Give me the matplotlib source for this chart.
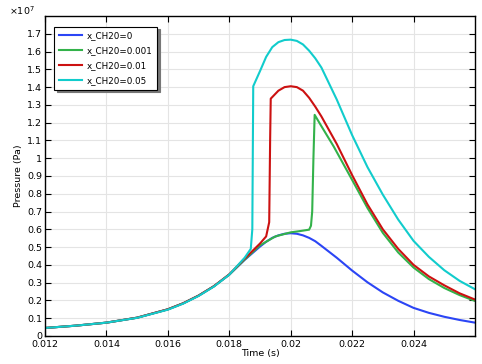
import matplotlib
matplotlib.use("Agg")
import matplotlib.pyplot as plt
from matplotlib.ticker import FuncFormatter

# pressure values in units of 1e7 Pa
t_blue = [0.012, 0.013, 0.014, 0.015, 0.016, 0.0165, 0.017, 0.0175, 0.018, 0.0185,
          0.019, 0.0192, 0.0194, 0.0196, 0.0198, 0.020, 0.0202, 0.0204, 0.0206, 0.0208,
          0.021, 0.0215, 0.022, 0.0225, 0.023, 0.0235, 0.024, 0.0245, 0.025, 0.0255, 0.026]
p_blue = [0.045, 0.058, 0.075, 0.103, 0.150, 0.184, 0.227, 0.280, 0.345, 0.428,
          0.503, 0.530, 0.552, 0.566, 0.575, 0.578, 0.575, 0.566, 0.552, 0.533,
          0.507, 0.440, 0.368, 0.302, 0.245, 0.198, 0.158, 0.130, 0.108, 0.090, 0.075]

t_green = [0.012, 0.013, 0.014, 0.015, 0.016, 0.0165, 0.017, 0.0175, 0.018, 0.0185,
           0.019, 0.0195, 0.020, 0.0203, 0.0206, 0.02066, 0.0207, 0.02074, 0.02078,
           0.021, 0.0214, 0.022, 0.0225, 0.023, 0.0235, 0.024, 0.0245, 0.025, 0.0255, 0.026]
p_green = [0.045, 0.058, 0.075, 0.103, 0.150, 0.184, 0.227, 0.280, 0.345, 0.430,
           0.510, 0.560, 0.583, 0.590, 0.598, 0.620, 0.700, 1.000, 1.244,
           1.180, 1.066, 0.878, 0.720, 0.580, 0.470, 0.385, 0.320, 0.270, 0.230, 0.197]

t_red = [0.012, 0.013, 0.014, 0.015, 0.016, 0.0165, 0.017, 0.0175, 0.018, 0.0185,
         0.019, 0.0192, 0.0193, 0.01933, 0.01935, 0.0196, 0.0198, 0.020, 0.0202, 0.0204,
         0.0206, 0.0208, 0.021, 0.0215, 0.022, 0.0225, 0.023, 0.0235, 0.024, 0.0245,
         0.025, 0.0255, 0.026]
p_red = [0.045, 0.058, 0.075, 0.103, 0.150, 0.184, 0.227, 0.280, 0.347, 0.435,
         0.520, 0.560, 0.640, 1.100, 1.335, 1.380, 1.400, 1.405, 1.400, 1.380,
         1.340, 1.290, 1.235, 1.080, 0.905, 0.740, 0.600, 0.490, 0.400, 0.335,
         0.285, 0.240, 0.205]

t_cyan = [0.012, 0.013, 0.014, 0.015, 0.016, 0.0165, 0.017, 0.0175, 0.018, 0.0185,
          0.0187, 0.01875, 0.01878, 0.0190, 0.0192, 0.0194, 0.0196, 0.0198, 0.020,
          0.0202, 0.0204, 0.0206, 0.0208, 0.021, 0.0215, 0.022, 0.0225, 0.023, 0.0235,
          0.024, 0.0245, 0.025, 0.0255, 0.026]
p_cyan = [0.045, 0.058, 0.075, 0.102, 0.148, 0.182, 0.225, 0.278, 0.345, 0.440,
          0.490, 0.600, 1.405, 1.490, 1.570, 1.625, 1.653, 1.665, 1.667,
          1.660, 1.640, 1.605, 1.562, 1.510, 1.330, 1.130, 0.950, 0.795, 0.655,
          0.535, 0.445, 0.370, 0.310, 0.263]

labels = ["x_CH20=0", "x_CH20=0.001", "x_CH20=0.01", "x_CH20=0.05"]
colors = ["#2b45f5", "#33b24a", "#cc1111", "#11cccc"]
x_ticks = [0.012, 0.014, 0.016, 0.018, 0.020, 0.022, 0.024]
y_ticks = [i / 10 for i in range(18)]

fig = plt.figure(figsize=(4.82, 3.64), dpi=100)
ax = fig.add_axes([0.0934, 0.077, 0.892, 0.879])

series = [(t_blue, p_blue), (t_green, p_green), (t_red, p_red), (t_cyan, p_cyan)]
for (t, p), lab, c in zip(series, labels, colors):
    ax.plot(t, p, color=c, lw=1.5, label=lab)

ax.set_xlim(0.012, 0.026)
ax.set_ylim(0, 1.8)
ax.set_xticks(x_ticks)
ax.set_yticks(y_ticks)
ax.xaxis.set_major_formatter(FuncFormatter(lambda v, p: "%g" % round(v, 4)))
ax.yaxis.set_major_formatter(FuncFormatter(lambda v, p: "%g" % round(v, 2)))
ax.tick_params(direction="in", top=True, right=True, labelsize=6.8, length=4, width=0.8)
ax.tick_params(axis="x", pad=3)
ax.tick_params(axis="y", pad=2)
ax.grid(True, color="#e4e4e4", lw=0.8)
ax.set_axisbelow(True)
for s in ax.spines.values():
    s.set_linewidth(1.0)

ax.set_xlabel("Time (s)", fontsize=6.8, labelpad=0)
ax.set_ylabel("Pressure (Pa)", fontsize=6.8, labelpad=3)
fig.text(0.018, 0.952, r"$\times10^{7}$", fontsize=6.8, ha="left", va="bottom")

leg = ax.legend(loc="upper left", bbox_to_anchor=(0.022, 0.967), fontsize=6.3, fancybox=False,
                shadow={"color": "#777777", "alpha": 1}, framealpha=1, edgecolor="black",
                handlelength=2.7, handletextpad=0.5, borderpad=0.5, labelspacing=0.7,
                borderaxespad=0)
leg.get_frame().set_linewidth(0.8)

fig.savefig("out.png", dpi=100)
